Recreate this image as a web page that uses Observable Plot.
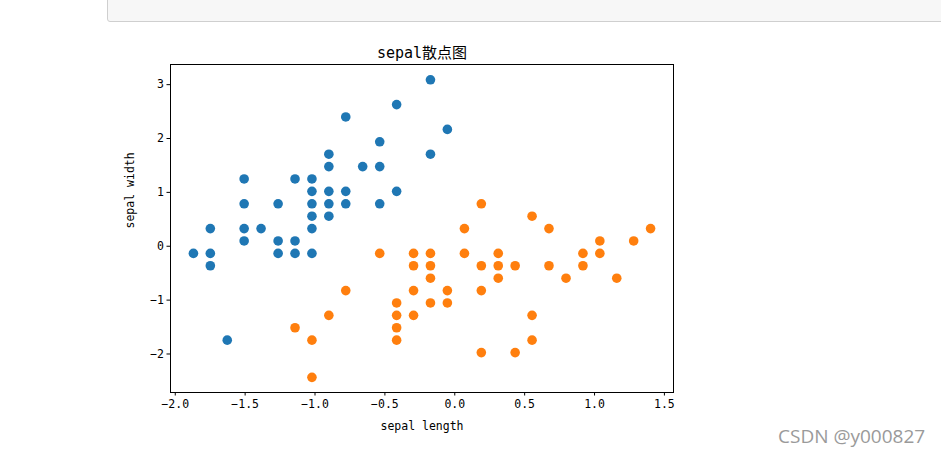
<!DOCTYPE html>
<html>
<head>
<meta charset="utf-8">
<script src="https://cdn.jsdelivr.net/npm/d3@7"></script>
<script src="https://cdn.jsdelivr.net/npm/@observablehq/plot@0.6"></script>
<style>
  html, body { margin: 0; padding: 0; background: #fff; width: 941px; height: 457px; overflow: hidden; position: relative; }
  #header { position: absolute; left: 107px; top: -1px; width: 840px; height: 21px; background: #f7f7f7; border: 1px solid #cfcfcf; border-radius: 0 0 0 3px; }
  #wm { position: absolute; left: 778px; top: 423px; font-family: "Open Sans", "Noto Sans", sans-serif; font-size: 19px; color: #9a9a9a; white-space: nowrap; }
  #chart { position: absolute; left: 0; top: 0; }
</style>
</head>
<body>
<div id="chart"></div>
<div id="header"></div>
<div id="wm">CSDN @y000827</div>
<script>
// Standardized sepal length / width values
const setosaX = [-1.870, -1.749, -1.749, -1.749, -1.628, -1.507, -1.507, -1.507, -1.507, -1.386,
  -1.264, -1.264, -1.264, -1.143, -1.143, -1.143, -1.022, -1.022, -1.022, -1.022, -1.022, -1.022,
  -0.901, -0.901, -0.901, -0.901, -0.901, -0.780, -0.780, -0.780, -0.659, -0.537, -0.537, -0.537,
  -0.416, -0.416, -0.174, -0.174, -0.053];
const setosaY = [-0.132, -0.132, 0.328, -0.362, -1.743, 1.249, 0.788, 0.328, 0.098, 0.328,
  0.788, 0.098, -0.132, 1.249, 0.098, -0.132, 1.249, 1.019, 0.788, 0.558, 0.328, -0.132,
  1.709, 1.479, 1.019, 0.788, 0.558, 2.400, 1.019, 0.788, 1.479, 1.939, 1.479, 0.788,
  2.630, 1.019, 3.090, 1.709, 2.169];
const versicolorX = [-1.143, -1.022, -1.022, -0.901, -0.780, -0.537, -0.416, -0.416, -0.416, -0.416,
  -0.295, -0.295, -0.295, -0.295, -0.174, -0.174, -0.174, -0.174, -0.053, -0.053,
  0.069, 0.069, 0.190, 0.190, 0.190, 0.190, 0.311, 0.311, 0.311, 0.432, 0.432,
  0.553, 0.553, 0.553, 0.674, 0.674, 0.796, 0.917, 0.917, 1.038, 1.038, 1.159, 1.280, 1.401];
const versicolorY = [-1.513, -1.743, -2.434, -1.283, -0.823, -0.132, -1.053, -1.283, -1.513, -1.743,
  -0.132, -0.362, -0.823, -1.283, -0.132, -0.362, -0.593, -1.053, -0.823, -1.053,
  0.328, -0.132, 0.788, -0.362, -0.823, -1.974, -0.132, -0.362, -0.593, -0.362, -1.974,
  0.558, -1.283, -1.743, 0.328, -0.362, -0.593, -0.132, -0.362, 0.098, -0.132, -0.593, 0.098, 0.328];
const xTicks = [-2.0, -1.5, -1.0, -0.5, 0.0, 0.5, 1.0, 1.5];
const yTicks = [-2, -1, 0, 1, 2, 3];
const titleText = "sepal散点图";
const xLabel = "sepal length";
const yLabel = "sepal width";

const setosa = setosaX.map((x, i) => ({x, y: setosaY[i]}));
const versicolor = versicolorX.map((x, i) => ({x, y: versicolorY[i]}));
const mono = '"DejaVu Sans Mono", "Noto Sans CJK SC", monospace';

const chart = Plot.plot({
  width: 941,
  height: 457,
  marginLeft: 170,
  marginRight: 268,
  marginTop: 64,
  marginBottom: 65,
  style: {fontFamily: mono, fontSize: "11.5px", color: "#000", background: "transparent"},
  x: {domain: [-2.034, 1.565]},
  y: {domain: [-2.715, 3.374]},
  marks: [
    Plot.dot(setosa, {x: "x", y: "y", r: 4.8, fill: "#1f77b4", stroke: null}),
    Plot.dot(versicolor, {x: "x", y: "y", r: 4.8, fill: "#ff7f0e", stroke: null}),
    Plot.frame({stroke: "#000", strokeWidth: 1}),
    Plot.axisX({ticks: xTicks, tickFormat: d3.format(".1f"), tickSize: 3.5, tickPadding: 4, label: null, fontSize: "11.5px"}),
    Plot.axisY({ticks: yTicks, tickFormat: d3.format("d"), tickSize: 3.5, tickPadding: 3, label: null, fontSize: "11.5px"}),
    Plot.text([titleText], {text: d => d, frameAnchor: "top", dy: -17, fontSize: 15, fill: "#000"}),
    Plot.text([xLabel], {text: d => d, frameAnchor: "bottom", dy: 37, fontSize: 11.5, fill: "#000"}),
    Plot.text([yLabel], {text: d => d, frameAnchor: "left", dx: -40, rotate: -90, fontSize: 11.5, fill: "#000"})
  ]
});
document.getElementById("chart").appendChild(chart);
</script>
</body>
</html>
